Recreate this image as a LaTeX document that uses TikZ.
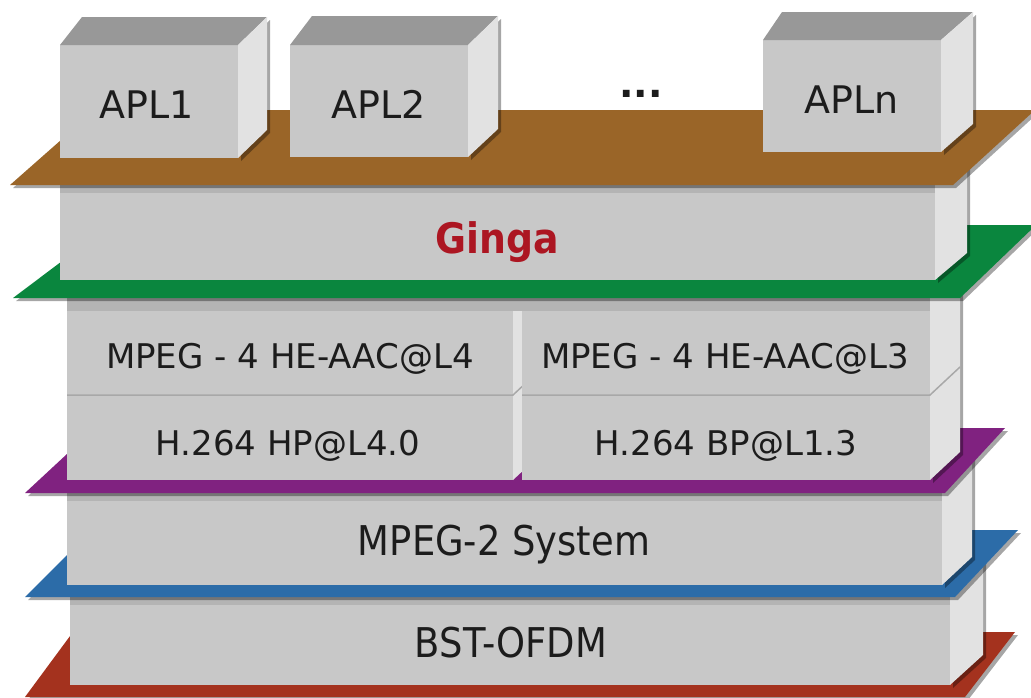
\documentclass[tikz,border=0pt]{standalone}
\usepackage{fontspec}
\setmainfont{DejaVu Sans}
\newfontfamily\condfont[FakeStretch=0.9]{DejaVu Sans}

\definecolor{facegray}{RGB}{200,200,200}
\definecolor{sidegray}{RGB}{226,226,226}
\definecolor{topgray}{RGB}{152,152,152}
\definecolor{stripgray}{RGB}{180,180,180}
\definecolor{edgegray}{RGB}{168,168,168}
\definecolor{brownplane}{RGB}{154,101,40}
\definecolor{greenplane}{RGB}{10,134,62}
\definecolor{purpleplane}{RGB}{128,34,128}
\definecolor{blueplane}{RGB}{44,108,168}
\definecolor{redplane}{RGB}{164,50,30}
\definecolor{gingared}{RGB}{172,22,34}
\definecolor{ink}{RGB}{28,28,28}

\tikzset{
  front/.style={fill=facegray},
  side/.style={fill=sidegray},
  topface/.style={fill=topgray},
  strip/.style={fill=stripgray},
  seam/.style={draw=edgegray, line width=1.5pt},
  dropshadow/.style={fill=black, opacity=0.35, shift={(3,3)}},
  plane/.style={fill=#1},
  lbl/.style={anchor=base, inner sep=0pt, text=ink,
    font=\fontsize{#1}{#1}\selectfont},
  condlbl/.style={anchor=base, inner sep=0pt, text=ink,
    font=\condfont\fontsize{#1}{#1}\selectfont},
}

\begin{document}
\begin{tikzpicture}[x=1pt, y=-1pt]
\useasboundingbox (0,0) rectangle (1031,697);
\fill[white] (0,0) rectangle (1031,697);

% ---- red plane and BST-OFDM block
\fill[dropshadow] (25,697) -- (73,632) -- (1015,632) -- (965,697) -- cycle;
\fill[plane=redplane] (25,697) -- (73,632) -- (1015,632) -- (965,697) -- cycle;
\fill[dropshadow] (950,545) -- (983,545) -- (983,655) -- (950,685) -- cycle;
\fill[front] (70,545) rectangle (950,685);
\fill[side] (950,545) -- (983,545) -- (983,655) -- (950,685) -- cycle;
\fill[strip] (70,597) rectangle (950,605);

% ---- blue plane and MPEG-2 block
\fill[dropshadow] (25,597) -- (92,530) -- (1018,530) -- (955,597) -- cycle;
\fill[plane=blueplane] (25,597) -- (92,530) -- (1018,530) -- (955,597) -- cycle;
\fill[dropshadow] (942,440) -- (972,440) -- (972,557) -- (942,585) -- cycle;
\fill[front] (67,440) rectangle (942,585);
\fill[side] (942,440) -- (972,440) -- (972,557) -- (942,585) -- cycle;
\fill[strip] (67,493) rectangle (942,501);

% ---- purple plane and codec blocks
\fill[dropshadow] (25,493) -- (95,428) -- (1005,428) -- (945,493) -- cycle;
\fill[plane=purpleplane] (25,493) -- (95,428) -- (1005,428) -- (945,493) -- cycle;
% left column
\fill[front] (67,280) rectangle (513,480);
\fill[side] (513,280) -- (543,280) -- (543,452) -- (513,480) -- cycle;
\draw[seam] (67,395) -- (513,395) -- (543,367);
% right column
\fill[dropshadow] (930,280) -- (960,280) -- (960,452) -- (930,480) -- cycle;
\fill[front] (522,280) rectangle (930,480);
\fill[side] (930,280) -- (960,280) -- (960,452) -- (930,480) -- cycle;
\draw[seam] (522,395) -- (930,395) -- (960,367);
\fill[strip] (67,298) rectangle (930,311);

% ---- green plane and Ginga block
\fill[dropshadow] (13,298) -- (110,225) -- (1036,225) -- (960,298) -- cycle;
\fill[plane=greenplane] (13,298) -- (110,225) -- (1036,225) -- (960,298) -- cycle;
\fill[dropshadow] (935,150) -- (967,150) -- (967,253) -- (935,280) -- cycle;
\fill[front] (60,150) rectangle (935,280);
\fill[side] (935,150) -- (967,150) -- (967,253) -- (935,280) -- cycle;
\fill[strip] (60,185) rectangle (935,193);

% ---- brown plane and application blocks
\fill[dropshadow] (10,185) -- (95,110) -- (1035,110) -- (953,185) -- cycle;
\fill[plane=brownplane] (10,185) -- (95,110) -- (1035,110) -- (953,185) -- cycle;

% APL1
\fill[dropshadow] (238,45) -- (267,17) -- (267,130) -- (238,158) -- cycle;
\fill[front] (60,45) rectangle (238,158);
\fill[topface] (60,45) -- (82,17) -- (267,17) -- (238,45) -- cycle;
\fill[side] (238,45) -- (267,17) -- (267,130) -- (238,158) -- cycle;
% APL2
\fill[dropshadow] (468,45) -- (498,16) -- (498,129) -- (468,157) -- cycle;
\fill[front] (290,45) rectangle (468,157);
\fill[topface] (290,45) -- (312,16) -- (498,16) -- (468,45) -- cycle;
\fill[side] (468,45) -- (498,16) -- (498,129) -- (468,157) -- cycle;
% APLn
\fill[dropshadow] (941,40) -- (973,12) -- (973,124) -- (941,152) -- cycle;
\fill[front] (763,40) rectangle (941,152);
\fill[topface] (763,40) -- (782,12) -- (973,12) -- (941,40) -- cycle;
\fill[side] (941,40) -- (973,12) -- (973,124) -- (941,152) -- cycle;

% ---- labels
\node[lbl=38] (apl1) at (147,118) {APL1};
\node[lbl=38] (apl2) at (379,118) {APL2};
\node[lbl=38, font=\bfseries\fontsize{38}{38}\selectfont] (dots) at (641,97) {...};
\node[lbl=38] (apln) at (852,113) {APLn};
\node[condlbl=42, text=gingared, font=\condfont\bfseries\fontsize{42}{42}\selectfont] (ginga) at (497,253) {Ginga};
\node[lbl=34] (aacl4) at (290,368) {MPEG - 4 HE-AAC@L4};
\node[lbl=34] (aacl3) at (725,368) {MPEG - 4 HE-AAC@L3};
\node[lbl=34] (hp) at (288,455) {H.264 HP@L4.0};
\node[lbl=34] (bp) at (726,455) {H.264 BP@L1.3};
\node[condlbl=41] (mpeg2) at (504,555) {MPEG-2 System};
\node[condlbl=41] (ofdm) at (511,657) {BST-OFDM};
\end{tikzpicture}
\end{document}
